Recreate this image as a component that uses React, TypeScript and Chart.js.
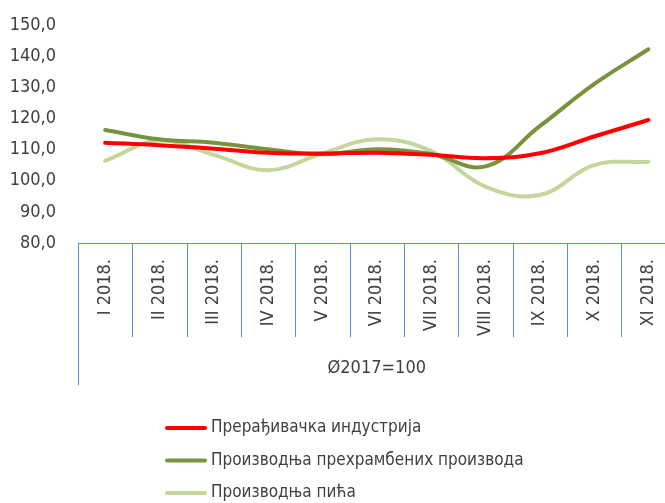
import React, { useEffect, useRef } from "react";
import { Chart, registerables } from "chart.js";

Chart.register(...registerables);

const categories = [
  "I 2018.",
  "II 2018.",
  "III 2018.",
  "IV 2018.",
  "V 2018.",
  "VI 2018.",
  "VII 2018.",
  "VIII 2018.",
  "IX 2018.",
  "X 2018.",
  "XI 2018.",
];

const seriesNames = [
  "Прерађивачка индустрија",
  "Производња прехрамбених производа",
  "Производња пића",
];

const manufacturing = [112.2, 111.4, 110.3, 109.0, 108.7, 109.0, 108.3, 107.2, 108.8, 114.2, 119.5];
const food = [116.3, 113.3, 112.2, 110.1, 108.5, 110.1, 108.6, 104.6, 117.5, 131.0, 142.2];
const beverages = [106.4, 112.9, 108.3, 103.4, 108.8, 113.3, 109.5, 98.1, 95.4, 105.0, 106.1];

const seriesColors = ["#ff0000", "#77933c", "#c3d69b"];

const yMin = 80;
const yMax = 150;
const yStep = 10;

const baseLabel = "Ø2017=100";

const FONT = '"Liberation Sans Narrow", "DejaVu Sans Condensed", "Arial Narrow", sans-serif';
const TEXT_COLOR = "#404040";
const AXIS_COLOR = "#5b8ed6";

const decorPlugin = {
  id: "decor",
  afterDraw(chart: any) {
    const ctx = chart.ctx;
    const xs = chart.scales.x;
    const area = chart.chartArea;
    const n = categories.length;
    const step = xs.getPixelForValue(1) - xs.getPixelForValue(0);
    ctx.save();
    ctx.strokeStyle = AXIS_COLOR;
    ctx.lineWidth = 1;
    for (let i = 0; i <= n; i++) {
      const bx = Math.round(xs.getPixelForValue(0) - step / 2 + i * step) + 0.5;
      const outer = i === 0 || i === n;
      ctx.beginPath();
      ctx.moveTo(bx, area.bottom);
      ctx.lineTo(bx, area.bottom + (outer ? 142 : 94));
      ctx.stroke();
    }
    // base label
    ctx.fillStyle = TEXT_COLOR;
    ctx.font = "18px " + FONT;
    ctx.textAlign = "center";
    ctx.textBaseline = "middle";
    ctx.fillText(baseLabel, (area.left + area.right) / 2, area.bottom + 125);

    // legend
    const lx = 167;
    const ly0 = 428;
    const dy = 32.5;
    ctx.font = "17px " + FONT;
    ctx.textAlign = "left";
    seriesNames.forEach((name, i) => {
      const y = ly0 + i * dy;
      ctx.strokeStyle = seriesColors[i];
      ctx.lineWidth = 4;
      ctx.lineCap = "round";
      ctx.beginPath();
      ctx.moveTo(lx, y);
      ctx.lineTo(lx + 38, y);
      ctx.stroke();
      ctx.fillStyle = TEXT_COLOR;
      ctx.fillText(name, lx + 44, y);
    });
    ctx.restore();
  },
};

export default function App() {
  const ref = useRef<HTMLCanvasElement>(null);

  useEffect(() => {
    if (!ref.current) return;
    const seriesData = [manufacturing, food, beverages];
    const chart = new Chart(ref.current, {
      type: "line",
      data: {
        labels: categories,
        datasets: seriesNames.map((name, i) => ({
          label: name,
          data: seriesData[i],
          borderColor: seriesColors[i],
          backgroundColor: seriesColors[i],
          borderWidth: 4,
          pointRadius: 0,
          tension: 0.4,
          borderCapStyle: "round" as const,
          fill: false,
        })),
      },
      options: {
        animation: false,
        responsive: false,
        devicePixelRatio: 1,
        layout: { padding: { top: 25, left: 0, right: 0, bottom: 0 } },
        plugins: {
          legend: { display: false },
          tooltip: { enabled: false },
        },
        scales: {
          x: {
            type: "category",
            offset: true,
            grid: { display: false, drawTicks: false },
            border: { display: true, color: AXIS_COLOR, width: 1 },
            ticks: {
              minRotation: 90,
              maxRotation: 90,
              autoSkip: false,
              padding: 16,
              color: TEXT_COLOR,
              font: { family: FONT, size: 18 },
            },
            afterFit: (s: any) => {
              s.height = 260;
            },
          },
          y: {
            min: yMin,
            max: yMax,
            grid: { display: false, drawTicks: false },
            border: { display: false },
            ticks: {
              stepSize: yStep,
              padding: 22,
              color: TEXT_COLOR,
              font: { family: FONT, size: 18 },
              callback: (v: any) => Number(v).toFixed(1).replace(".", ","),
            },
            afterFit: (s: any) => {
              s.width = 78;
              s.paddingTop = 0;
              s.paddingBottom = 0;
            },
          },
        },
      },
      plugins: [decorPlugin],
    });
    return () => chart.destroy();
  }, []);

  return (
    <div
      style={{
        position: "fixed",
        left: 0,
        top: 0,
        width: 665,
        height: 503,
        overflow: "hidden",
        background: "#fff",
      }}
    >
      <canvas ref={ref} width={686} height={503} style={{ display: "block" }} />
    </div>
  );
}
